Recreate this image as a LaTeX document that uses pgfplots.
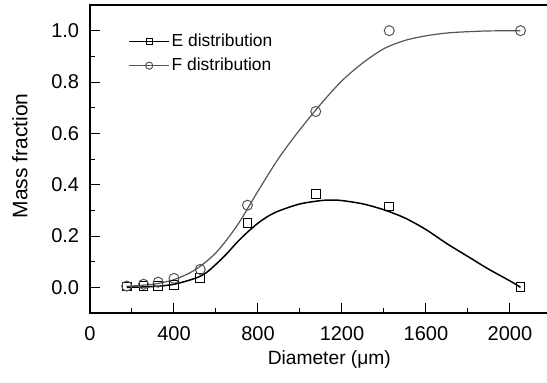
\documentclass[border=0pt]{standalone}
\usepackage{pgfplots}
\pgfplotsset{compat=1.18}
\usepackage{fontspec}
\setmainfont{Liberation Sans}
\definecolor{fgray}{RGB}{85,85,85}
\begin{document}
\begin{tikzpicture}
\begin{axis}[name=ax, scale only axis, width=231pt, height=154pt,
  xmin=0, xmax=2200, ymin=-0.1, ymax=1.1,
  xtick={0,400,...,2000}, minor xtick={200,600,1000,1400,1800},
  ytick={0,0.2,0.4,0.6,0.8,1.0}, minor ytick={0.1,0.3,0.5,0.7,0.9},
  tick align=inside, major tick length=5pt, minor tick length=2.5pt,
  xtick pos=bottom, ytick pos=left,
  axis line style={line width=0.6pt}, tick style={line width=0.5pt, black},
  /pgf/number format/assume math mode=true,
  /pgf/number format/1000 sep={},
  yticklabel style={/pgf/number format/fixed, /pgf/number format/fixed zerofill, /pgf/number format/precision=1},
  tick label style={font=\fontsize{10}{12}\selectfont, inner sep=0pt},
  yticklabel style={anchor=east, xshift=-5.25pt},
  xticklabel style={anchor=north, yshift=-6.7pt},
  xlabel={Diameter (μm)}, ylabel={Mass fraction},
  xlabel style={font=\fontsize{9.6}{11}\selectfont, at={(axis description cs:0.518,-0.152)}, anchor=center},
  ylabel style={font=\fontsize{10.5}{12}\selectfont, at={(axis description cs:-0.152,0.51)}, anchor=center},
  legend style={draw=none, fill=none, at={(axis description cs:0.07,0.842)}, anchor=west,
    font=\fontsize{8.7}{10}\selectfont, row sep=2.2pt, nodes={inner sep=1pt}},
  legend cell align=left,
  legend image code/.code={\draw[mark repeat=2,mark phase=2,#1] plot coordinates {(0pt,0pt) (10pt,0pt) (20pt,0pt)};},
]
\addlegendimage{black, line width=0.5pt, mark=square, mark size=1.6pt, mark options={solid, fill=white}}
\addlegendentry{E distribution}
\addlegendimage{fgray, line width=0.5pt, mark=o, mark size=1.8pt, mark options={solid, fill=white}}
\addlegendentry{F distribution}
% fitted curves
\addplot[fgray, line width=0.6pt, smooth, forget plot] coordinates {
(175,0.004) (300,0.012) (400,0.03) (500,0.068) (600,0.135) (700,0.24) (800,0.375)
(900,0.505) (1000,0.615) (1100,0.715) (1200,0.805) (1300,0.875) (1400,0.93) (1500,0.962)
(1600,0.98) (1700,0.991) (1800,0.996) (1900,0.999) (2050,1.0)};
\addplot[black, line width=0.75pt, smooth, forget plot] coordinates {
(175,0.0) (300,0.003) (400,0.012) (500,0.035) (550,0.055) (600,0.09) (650,0.13)
(700,0.175) (750,0.215) (800,0.25) (850,0.278) (900,0.298) (1000,0.325) (1100,0.338)
(1150,0.34) (1200,0.338) (1300,0.325) (1400,0.302) (1500,0.27) (1600,0.225)
(1700,0.17) (1800,0.12) (1900,0.07) (2000,0.025) (2050,0.0)};
% data points
\addplot[only marks, mark=square, mark size=2.2pt, black, mark options={fill=white, line width=0.5pt}, forget plot] coordinates {
(175,0.003) (255,0.005) (325,0.005) (400,0.01) (525,0.035) (750,0.25) (1075,0.365) (1425,0.315) (2050,0.0)};
\addplot[only marks, mark=o, mark size=2.5pt, fgray, mark options={fill=white, line width=0.5pt}, forget plot] coordinates {
(175,0.005) (255,0.012) (325,0.02) (400,0.035) (525,0.07) (750,0.32) (1075,0.685) (1425,1.0) (2050,1.0)};
\end{axis}
\pgfresetboundingbox
\path ([xshift=-45pt,yshift=-34.5pt]ax.south west) rectangle ([xshift=-2.5pt,yshift=2.5pt]ax.north east);
\end{tikzpicture}
\end{document}
